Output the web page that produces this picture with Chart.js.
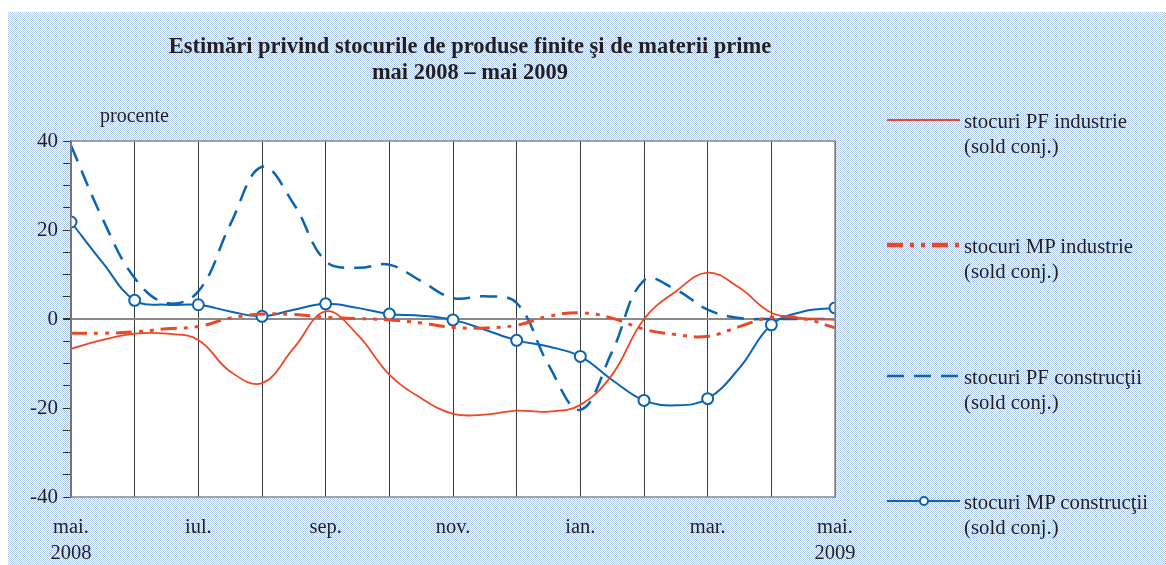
<!DOCTYPE html>
<html>
<head>
<meta charset="utf-8">
<script src="https://cdn.jsdelivr.net/npm/chart.js@4.4.1/dist/chart.umd.min.js"></script>
<style>
  html, body { margin: 0; padding: 0; background: #fff; }
  #wrap { position: relative; width: 1166px; height: 565px; overflow: hidden; font-family: "Liberation Serif", "DejaVu Serif", serif; color: #231f20; }
  #bg { position: absolute; left: 8px; top: 12px; right: 0; bottom: 0;
        background-color: #d6e3f3;
        background-image: url("data:image/svg+xml,%3Csvg xmlns='http://www.w3.org/2000/svg' width='2' height='2' shape-rendering='crispEdges'%3E%3Crect width='2' height='2' fill='%23ffffff'/%3E%3Crect width='1' height='1' fill='%23b0c9ea'/%3E%3Crect x='1' y='1' width='1' height='1' fill='%23b0c9ea'/%3E%3C/svg%3E");
        background-size: 2px 2px; image-rendering: pixelated; }
  canvas { position: absolute; left: 0; top: 0; }
  .txt { position: absolute; white-space: nowrap; }
  #title { left: 70px; width: 800px; top: 33px; text-align: center; font-weight: bold; font-size: 22.5px; line-height: 26px; }
  #unit { left: 100px; top: 104px; font-size: 20px; }
  .leg { left: 964px; font-size: 20.8px; line-height: 25px; }
</style>
</head>
<body>
<div id="wrap">
  <div id="bg"></div>
  <canvas id="c" width="1166" height="565"></canvas>
  <div class="txt" id="title">Estimări privind stocurile de produse finite şi de materii prime<br>mai 2008 – mai 2009</div>
  <div class="txt" id="unit">procente</div>
  <div class="txt leg" style="top:108px">stocuri PF industrie<br>(sold conj.)</div>
  <div class="txt leg" style="top:233px">stocuri MP industrie<br>(sold conj.)</div>
  <div class="txt leg" style="top:364px">stocuri PF construcţii<br>(sold conj.)</div>
  <div class="txt leg" style="top:489px">stocuri MP construcţii<br>(sold conj.)</div>
</div>
<script>
// luni de la mai 2008 (0) la mai 2009 (12), citite la fiecare jumatate de luna
const months = [0, 0.5, 1, 1.5, 2, 2.5, 3, 3.5, 4, 4.5, 5, 5.5, 6, 6.5, 7, 7.5, 8, 8.5, 9, 9.5, 10, 10.5, 11, 11.5, 12];
const monthLabels = ['mai.', '', 'iul.', '', 'sep.', '', 'nov.', '', 'ian.', '', 'mar.', '', 'mai.'];
const yearLabels = { 0: '2008', 12: '2009' };

const pfIndustrie  = [-6.7, -4.7, -3.3, -3.3, -4.7, -11.8, -14.4, -6.5, 1.7, -3.5, -12.5, -17.8, -21.3, -21.5, -20.6, -20.8, -19.3, -12.5, 0.0, 6.2, 10.4, 7.0, 1.4, 0.2, -0.2];
const mpIndustrie  = [-3.2, -3.2, -2.9, -2.2, -1.7, 0.2, 1.1, 1.0, 0.4, 0.1, -0.2, -0.9, -1.9, -2.0, -1.4, 0.6, 1.4, 0.2, -2.3, -3.5, -3.9, -1.7, 0.4, 0.1, -2.0];
const pfConstructii = [39.0, 22.4, 9.2, 3.6, 6.2, 21.2, 34.2, 25.8, 13.0, 11.5, 12.2, 8.5, 4.7, 5.1, 3.6, -10.3, -20.4, -7.3, 8.7, 6.6, 2.1, 0.2, 0.0, 0.0, 0.0];
const mpConstructii = [21.8, 12.6, 4.2, 3.2, 3.2, 1.7, 0.6, 2.1, 3.4, 2.5, 1.1, 0.75, -0.2, -2.4, -4.8, -6.2, -8.4, -13.7, -18.3, -19.4, -17.9, -11.0, -1.3, 1.7, 2.5];

const RED = '#ef4626';
const BLUE = '#0b63b3';

const pts = vals => vals.map((v, i) => ({ x: months[i], y: v }));

const datasets = [
  { label: 'stocuri PF industrie (sold conj.)', data: pts(pfIndustrie),
    borderColor: RED, borderWidth: 1.8, pointRadius: 0, tension: 0.4 },
  { label: 'stocuri MP industrie (sold conj.)', data: pts(mpIndustrie),
    borderColor: RED, borderWidth: 3, borderDash: [16, 7, 4, 7, 4, 7], pointRadius: 0, tension: 0.4 },
  { label: 'stocuri PF construcţii (sold conj.)', data: pts(pfConstructii),
    borderColor: BLUE, borderWidth: 2.5, borderDash: [17, 10], pointRadius: 0, tension: 0.4 },
  { label: 'stocuri MP construcţii (sold conj.)', data: pts(mpConstructii),
    borderColor: BLUE, borderWidth: 2, tension: 0.4,
    pointRadius: ctx => Number.isInteger(months[ctx.dataIndex]) ? 5.5 : 0,
    pointBackgroundColor: '#fff', pointBorderColor: BLUE, pointBorderWidth: 2 }
];

// fundal alb + chenar gri pentru zona graficului, legenda desenata la dreapta
const plotArea = {
  id: 'plotArea',
  beforeDraw(chart) {
    const { ctx, chartArea: a } = chart;
    ctx.save();
    ctx.fillStyle = '#fff';
    ctx.fillRect(a.left, a.top, a.right - a.left, a.bottom - a.top);
    ctx.restore();
  },
  afterDraw(chart) {
    const { ctx, chartArea: a } = chart;
    ctx.save();
    ctx.strokeStyle = '#8a8a8a';
    ctx.lineWidth = 1.5;
    ctx.strokeRect(a.left, a.top, a.right - a.left, a.bottom - a.top);
    const legY = [120, 245, 376, 501];
    chart.data.datasets.forEach((ds, i) => {
      const y = legY[i];
      ctx.strokeStyle = ds.borderColor;
      ctx.lineWidth = i === 1 ? 4.5 : ds.borderWidth;
      ctx.setLineDash(ds.borderDash || []);
      ctx.beginPath();
      ctx.moveTo(887, y);
      ctx.lineTo(960, y);
      ctx.stroke();
      if (i === 3) {
        ctx.setLineDash([]);
        ctx.fillStyle = '#fff';
        ctx.beginPath();
        ctx.arc(924, y, 4, 0, Math.PI * 2);
        ctx.fill();
        ctx.stroke();
      }
    });
    ctx.restore();
  }
};

new Chart(document.getElementById('c'), {
  type: 'line',
  data: { datasets },
  options: {
    responsive: false,
    animation: false,
    layout: { padding: { left: 0, top: 141, right: 331, bottom: 0 } },
    plugins: { legend: { display: false }, tooltip: { enabled: false }, title: { display: false } },
    scales: {
      x: {
        type: 'linear', min: 0, max: 12,
        afterFit: s => { s.height = 68; },
        grid: { color: '#3a3a3a', lineWidth: 1, drawTicks: false },
        border: { display: false },
        ticks: {
          stepSize: 1, autoSkip: false, maxRotation: 0, padding: 18,
          color: '#231f20', font: { family: 'Liberation Serif', size: 20.5, lineHeight: 1.27 },
          callback: v => {
            const l = monthLabels[v] || '';
            return yearLabels[v] ? [l, yearLabels[v]] : l;
          }
        }
      },
      y: {
        min: -40, max: 40,
        afterFit: s => { s.width = 71; },
        grid: {
          color: c => c.tick && c.tick.value === 0 ? '#8a8a8a' : 'rgba(0,0,0,0)',
          lineWidth: c => c.tick && c.tick.value === 0 ? 2 : 1,
          tickColor: '#333', tickLength: 8, drawOnChartArea: true
        },
        border: { display: true, color: '#333', width: 1.5 },
        ticks: {
          stepSize: 5, autoSkip: false, padding: 5,
          color: '#231f20', font: { family: 'Liberation Serif', size: 21 },
          callback: v => v % 20 === 0 ? v : ''
        }
      }
    }
  },
  plugins: [plotArea]
});
</script>
</body>
</html>
